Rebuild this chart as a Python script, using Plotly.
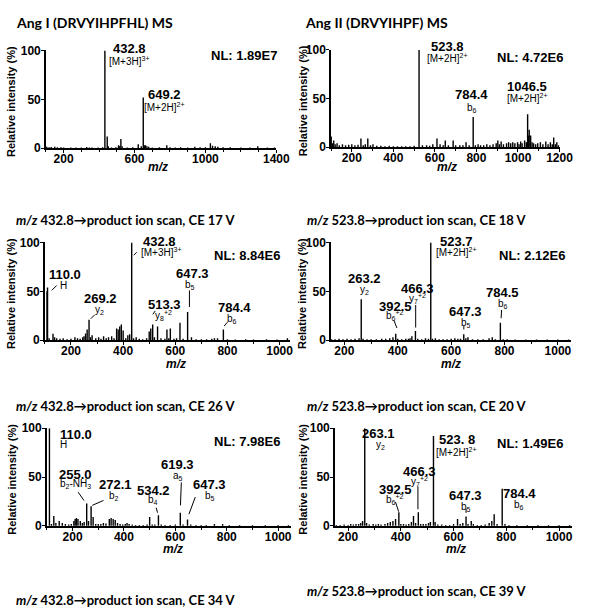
import plotly.graph_objects as go

W, H = 595, 613

# ---------------- data (m/z, relative intensity %) ----------------
P1_PEAKS = [(105,1.5),(118,1),(130,1.2),(150,1.5),(165,1),(185,1),(200,0.8),(240,0.8),(270,0.6),(300,0.7),
            (330,1.2),(345,0.8),(360,0.8),(395,0.7),(420,1),(432.8,100),(446,12),(452,2),(470,0.8),(495,1),
            (510,3),(516,2),(523,9.5),(530,2),(560,0.8),(590,1),(621,4),(638,2),(649.2,52),(655,3),(662,3),
            (670,2),(680,1.5),(700,0.8),(740,1),(782,3),(800,1),(830,0.8),(860,1),(900,0.8),(940,1.5),(970,1),
            (1000,1),(1028,5),(1040,2.5),(1055,2),(1070,1.5),(1100,1),(1140,1),(1200,0.8),(1250,0.8),(1295,2),
            (1350,0.8),(1390,0.8)]

P2_PEAKS = [(101,11),(106,4),(113,7),(120,3),(129,4),(140,2),(155,3),(170,2),(185,2.5),(200,3),(215,2),(230,2.5),
            (244,9),(255,2),(265,3),(277,9),(290,2),(302,3),(320,1.5),(340,1.5),(360,1),(380,1.5),(400,1),
            (420,1),(440,1),(460,1),(480,1),(500,1.5),(523.8,100),(540,2),(560,2),(575,1.5),(590,3),(610,9),
            (625,3),(640,2),(650,7),(665,2),(688,7),(700,2),(720,2),(735,2),(750,5),(765,2),(784.4,31),(795,2),
            (808,3),(820,2),(835,2),(850,3),(865,2),(880,3),(895,4),(903,7),(911,3),(919,6),(930,3),(945,4),
            (955,5),(965,4),(975,5),(985,4),(998,5),(1005,3),(1013,6),(1020,4),(1032,7),(1040,5),(1046.5,34),
            (1050,12),(1054,18),(1061,12),(1068,5),(1075,4),(1085,3),(1095,4),(1108,5),(1120,3),(1134,6),
            (1145,3),(1156,5),(1165,3),(1172,10),(1180,3),(1187,5),(1195,2)]

P3_PEAKS = [(108,50),(110,54),(116,2),(131,6.5),(137,3),(145,2),(158,1.5),(170,2),(185,1),(200,1.5),(215,3),
            (225,2),(235,1.5),(245,3),(250,4),(256,7),(262,11),(269.2,21),(275,3),(281,5),(295,2),(306,3),
            (315,1.5),(325,4),(335,2),(344,3),(356,4),(365,2),(375,12),(381,11),(387,14),(393,16),(400,10),
            (410,2),(418,5),(425,6),(432.8,100),(440,2),(450,3),(462,1.5),(475,1),(490,2),(500,9),(506,12),
            (513.3,16),(520,3),(532,14),(545,2),(560,1.5),(568,11),(575,2),(581,12),(595,1.5),(605,2),(618,18),
            (630,1.5),(647.3,29),(662,3),(680,1),(700,1),(720,1),(740,1.5),(750,2),(762,2),(784.4,11),(800,1),
            (830,0.8),(870,1),(900,0.8),(950,1),(990,0.8),(1030,2)]

P4_PEAKS = [(152,1),(165,1),(180,1.5),(195,1),(210,1.5),(225,1),(240,1.5),(255,2),(263.2,42),(270,1.5),(285,1),
            (300,1),(320,1),(340,1.5),(355,1.5),(370,2),(382,3),(392.5,6.5),(400,1.5),(415,1),(430,1.5),
            (440,1.5),(446,2),(453,4),(466.3,9.5),(475,1.5),(490,1),(504,2),(515,1.5),(523.7,100),(530,1.5),
            (541,2),(555,1),(570,1),(585,1),(600,1.5),(614,2),(625,1.5),(635,1.5),(647.3,6),(655,2),(663,3),
            (680,1),(700,1),(720,1),(742,2),(754,3),(765,1),(784.5,18),(795,1),(810,1),(840,0.8),(880,0.8),
            (920,0.8),(960,0.8),(1000,0.8),(1040,0.8)]

P5_PEAKS = [(110,100),(118,2),(127,10),(135,3),(148,5),(160,3),(172,2),(185,1.5),(195,2),(205,5),(210,7),
            (215,8),(221,7),(230,5),(238,3),(245,4),(255,23),(262,5),(272.1,20),(280,9),(290,2),(300,2),
            (310,2),(320,3),(330,2.5),(343,7),(350,8),(358,7),(366,6),(375,3),(385,2),(395,1.5),(405,2),
            (412,3),(420,2),(432,1.5),(445,1),(460,1),(475,1),(490,1.5),(500,9),(510,1.5),(520,1.5),(534.2,11),
            (545,1.5),(560,1),(580,1),(600,1.5),(619.3,13.5),(630,1.5),(647.3,6.5),(660,1.5),(680,1),(700,1),
            (720,1),(752,2),(784,2),(810,1),(850,0.8),(900,0.8),(950,0.8),(1000,0.8),(1040,0.8)]

P6_PEAKS = [(155,1),(170,1),(185,1.5),(200,1),(210,2),(220,1.5),(230,2),(240,2),(248,3),(255,5),(263.1,100),
            (270,3),(280,1.5),(295,2),(305,1.5),(315,2),(325,1.5),(340,2),(350,3),(360,4),(370,5),(380,7),
            (392.5,14),(400,2),(410,2),(420,1.5),(430,2),(440,4),(448,10),(456,3),(466.3,14),(475,2),(485,2),
            (495,2),(505,3),(512,4),(523.8,92),(530,4),(540,1.5),(555,1.5),(570,1),(585,1),(600,2),(615,7),
            (625,2),(635,3),(647.3,9.5),(655,2),(667,5),(675,2),(690,1),(705,1),(720,1.5),(735,3),(745,5),
            (754,12),(765,2),(784.4,38),(795,2),(810,1),(840,0.8),(880,0.8),(920,0.8),(960,0.8),(1000,0.8),
            (1040,0.8)]

Y_TICKS = [0, 50, 100]
P1_XTICKS = [200, 600, 1000, 1400]
P2_XTICKS = [200, 400, 600, 800, 1000, 1200]
PROD_XTICKS = [200, 400, 600, 800, 1000]

TITLES = ["Ang I (DRVYIHPFHL) MS", "Ang II (DRVYIHPF) MS",
          "<i>m/z</i> 432.8\u2192product ion scan, CE 17 V", "<i>m/z</i> 523.8\u2192product ion scan, CE 18 V",
          "<i>m/z</i> 432.8\u2192product ion scan, CE 26 V", "<i>m/z</i> 523.8\u2192product ion scan, CE 20 V",
          "<i>m/z</i> 432.8\u2192product ion scan, CE 34 V", "<i>m/z</i> 523.8\u2192product ion scan, CE 39 V"]
NL_TEXT = ["NL: 1.89E7", "NL: 4.72E6", "NL: 8.84E6", "NL: 2.12E6", "NL: 7.98E6", "NL: 1.49E6"]

# peak labels: (number text, ion text)
P1_LABELS = [("432.8", "[M+3H]<sup>3+</sup>"), ("649.2", "[M+2H]<sup>2+</sup>")]
P2_LABELS = [("523.8", "[M+2H]<sup>2+</sup>"), ("784.4", "b<sub>6</sub>"), ("1046.5", "[M+2H]<sup>2+</sup>")]
P3_LABELS = [("110.0", "H"), ("269.2", "y<sub>2</sub>"), ("432.8", "[M+3H]<sup>3+</sup>"),
             ("513.3", "y<sub>8</sub><sup>+2</sup>"), ("647.3", "b<sub>5</sub>"), ("784.4", "b<sub>6</sub>")]
P4_LABELS = [("263.2", "y<sub>2</sub>"), ("392.5", "b<sub>6</sub><sup>+2</sup>"), ("466.3", "y<sub>7</sub><sup>+2</sup>"),
             ("523.7", "[M+2H]<sup>2+</sup>"), ("647.3", "b<sub>5</sub>"), ("784.5", "b<sub>6</sub>")]
P5_LABELS = [("110.0", "H"), ("255.0", "b<sub>2</sub>-NH<sub>3</sub>"), ("272.1", "b<sub>2</sub>"),
             ("534.2", "b<sub>4</sub>"), ("619.3", "a<sub>5</sub>"), ("647.3", "b<sub>5</sub>")]
P6_LABELS = [("263.1", "y<sub>2</sub>"), ("392.5", "b<sub>6</sub><sup>+2</sup>"), ("466.3", "y<sub>7</sub><sup>+2</sup>"),
             ("523. 8", "[M+2H]<sup>2+</sup>"), ("647.3", "b<sub>5</sub>"), ("784.4", "b<sub>6</sub>")]

# ---------------- layout (pixel geometry) ----------------
def px(x):
    return x / W

def py(y):
    return 1 - y / H

PANELS = [
    dict(peaks=P1_PEAKS, x=(47, 283), y=(144.5, 44.5), xr=(100, 1400), ticks=P1_XTICKS, labels=P1_LABELS),
    dict(peaks=P2_PEAKS, x=(339, 573), y=(143.5, 44.0), xr=(100, 1200), ticks=P2_XTICKS, labels=P2_LABELS),
    dict(peaks=P3_PEAKS, x=(46, 297), y=(341, 241), xr=(100, 1040), ticks=PROD_XTICKS, labels=P3_LABELS),
    dict(peaks=P4_PEAKS, x=(339, 585), y=(341, 241), xr=(150, 1050), ticks=PROD_XTICKS, labels=P4_LABELS),
    dict(peaks=P5_PEAKS, x=(48, 298), y=(531, 431), xr=(100, 1050), ticks=PROD_XTICKS, labels=P5_LABELS),
    dict(peaks=P6_PEAKS, x=(343, 586), y=(531, 431), xr=(150, 1050), ticks=PROD_XTICKS, labels=P6_LABELS),
]
MZ_POS = [(162, 164), (458, 164), (180, 365), (462, 365), (177, 555), (467, 555)]

LABEL_POS = [
    [(133, 42, 133, 55), (168, 90, 168, 102)],
    [(458, 40, 458, 52), (483, 90, 483, 103), (540, 81, 540, 93)],
    [(67, 274, 65, 285), (103, 298, 102, 310), (163, 240, 165, 251), (168, 304, 167, 316),
     (197, 273, 195, 285), (240, 308, 238, 319)],
    [(373, 278, 373, 290), (405, 306, 405, 316), (428, 288, 428, 298), (468, 240, 468, 251),
     (477, 312, 477, 323), (515, 292, 515, 304)],
    [(78, 437, 65, 448), (77, 478, 77, 488), (118, 489, 117, 500), (157, 495, 157, 505),
     (182, 468, 182, 480), (215, 489, 215, 500)],
    [(388, 436, 390, 448), (405, 494, 405, 504), (430, 475, 430, 486), (468, 443, 468, 455),
     (477, 500, 477, 512), (532, 498, 532, 510)],
]
NL_POS = [(250, 50), (543, 52), (253, 254), (545, 254), (253, 445), (543, 447)]
TITLE_POS = [(14, 16), (310, 16), (14, 218), (312, 218), (14, 408), (312, 408), (14, 607), (312, 598)]
TITLE_SIZE = [14, 14, 13, 13, 13, 13, 13, 13]
YTITLE_X = [12, 310, 12, 310, 12, 310]

CONNECTORS = [
    (53, 290, 58, 285), (93, 319, 97, 315), (137, 254, 140, 251), (156.5, 314.5, 159, 311),
    (194, 307, 194, 290), (229.5, 326.5, 233, 322.5),
    (403.5, 321, 406.5, 328.5), (425.7, 305, 425.7, 328), (475, 326.5, 475, 330), (513.7, 310, 513.2, 318.5),
    (80, 496.5, 86, 505), (94.5, 510, 106, 505), (160, 512.5, 161.3, 517.5), (185.7, 486.5, 184.8, 510),
    (200, 501.5, 193.5, 519),
    (405, 506.5, 408.3, 516.5), (428, 491, 428, 514), (477.3, 513.3, 477.3, 517.7),
]

FONT = "Liberation Sans, Arial, sans-serif"
TFONT = "Lato, Liberation Sans, sans-serif"

fig = go.Figure()
layout = dict(width=W, height=H, margin=dict(l=0, r=0, t=0, b=0), paper_bgcolor="white",
              plot_bgcolor="rgba(0,0,0,0)", showlegend=False)
annotations = []
shapes = []

for i, p in enumerate(PANELS):
    k = "" if i == 0 else str(i + 1)
    xs, ys = [], []
    for mz, inten in p["peaks"]:
        xs += [mz, mz, None]
        ys += [0, inten, None]
    fig.add_trace(go.Scatter(x=xs, y=ys, mode="lines", line=dict(color="black", width=1.4),
                             xaxis="x" + k, yaxis="y" + k, hoverinfo="skip"))
    layout["xaxis" + k] = dict(
        domain=[px(p["x"][0]), px(p["x"][1])], range=list(p["xr"]), anchor="y" + k,
        showline=True, linecolor="black", linewidth=1.5, showgrid=False, zeroline=False,
        ticks="outside", ticklen=3, tickwidth=1, tickcolor="black", ticklabelstandoff=-4,
        tickvals=p["ticks"], ticktext=[str(t) for t in p["ticks"]],
        tickfont=dict(family=FONT, size=12, color="black", weight="bold"),
        minor=dict(ticks="outside", ticklen=2, tickcolor="black", dtick=100, tick0=0),
        fixedrange=True)
    layout["yaxis" + k] = dict(
        domain=[py(p["y"][0]), py(p["y"][1])], range=[0, 100], anchor="x" + k,
        showline=True, linecolor="black", linewidth=1.5, showgrid=False, zeroline=False,
        ticks="outside", ticklen=3, tickcolor="black", tickvals=Y_TICKS, ticklabelstandoff=-2,
        tickfont=dict(family=FONT, size=12, color="black", weight="bold"), fixedrange=True)

    annotations.append(dict(x=px(MZ_POS[i][0]), y=py(MZ_POS[i][1]), xref="paper", yref="paper",
                            text="<i>m/z</i>", showarrow=False, xanchor="center", yanchor="middle",
                            font=dict(family=FONT, size=12, color="black", weight="bold")))
    annotations.append(dict(x=px(YTITLE_X[i]), y=py((p["y"][0] + p["y"][1]) / 2 + 2), xref="paper", yref="paper",
                            text="Relative intensity (%)", textangle=-90, showarrow=False,
                            xanchor="center", yanchor="middle",
                            font=dict(family=FONT, size=11, color="black", weight="bold")))
    annotations.append(dict(x=px(NL_POS[i][0]), y=py(NL_POS[i][1]), xref="paper", yref="paper",
                            text=NL_TEXT[i], showarrow=False, xanchor="center", yanchor="middle",
                            font=dict(family=FONT, size=13, color="black", weight="bold")))
    for (num, ion), (nx, ny, ix, iy) in zip(p["labels"], LABEL_POS[i]):
        annotations.append(dict(x=px(nx), y=py(ny), xref="paper", yref="paper", text=num,
                                showarrow=False, xanchor="center", yanchor="middle",
                                font=dict(family=FONT, size=13, color="black", weight="bold")))
        annotations.append(dict(x=px(ix), y=py(iy), xref="paper", yref="paper", text=ion,
                                showarrow=False, xanchor="center", yanchor="middle",
                                font=dict(family=FONT, size=10, color="black")))

for t, (tx, ty), ts in zip(TITLES, TITLE_POS, TITLE_SIZE):
    annotations.append(dict(x=px(tx), y=py(ty), xref="paper", yref="paper", text=t, showarrow=False,
                            xanchor="left", yanchor="middle",
                            font=dict(family=TFONT, size=ts, color="black", weight="bold")))

for x0, y0, x1, y1 in CONNECTORS:
    shapes.append(dict(type="line", xref="paper", yref="paper", x0=px(x0), y0=py(y0), x1=px(x1), y1=py(y1),
                       line=dict(color="black", width=1)))

layout["annotations"] = annotations
layout["shapes"] = shapes
fig.update_layout(**layout)
fig.write_html("out.html")
